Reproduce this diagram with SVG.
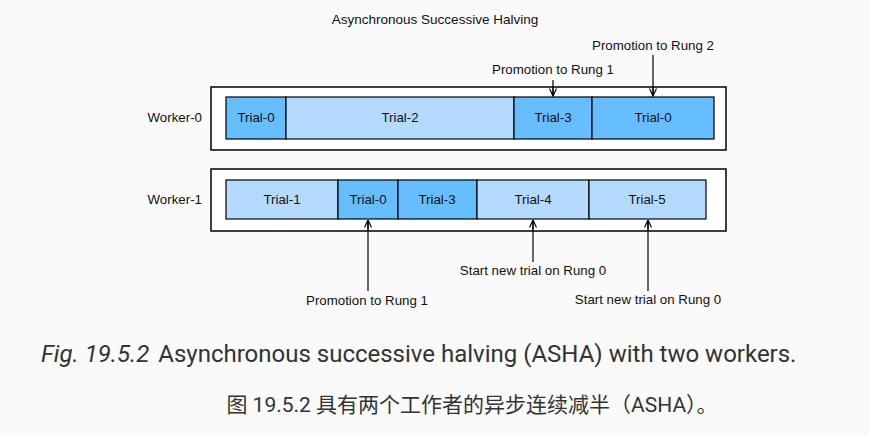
<svg xmlns="http://www.w3.org/2000/svg" width="869" height="436" viewBox="0 0 869 436">
<defs>
<style>
.t{font-family:"Liberation Sans",Arial,sans-serif;font-size:13.3px;fill:#111;text-anchor:middle}
.lbl{font-family:"Liberation Sans",Arial,sans-serif;font-size:13.3px;fill:#111;text-anchor:end}
.outer{fill:#fff;stroke:#000;stroke-width:1.5}
.dk{fill:#66BEFF;stroke:#000;stroke-width:1.2}
.lt{fill:#B5DAFF;stroke:#000;stroke-width:1.2}
.arr{stroke:#000;stroke-width:1.2;fill:none;marker-end:url(#ah)}
.cap{font-family:Roboto,"Noto Sans","Noto Sans CJK SC",sans-serif;fill:#333}
</style>
<marker id="ah" viewBox="0 0 10 8" refX="9.5" refY="4" markerWidth="10" markerHeight="8" markerUnits="userSpaceOnUse" orient="auto">
<path d="M2,0.5 L9.5,4 L2,7.5 M0,4 L9.5,4" fill="none" stroke="#000" stroke-width="1.2"/>
</marker>
</defs>
<rect width="869" height="436" fill="#FAFAFA"/>
<text id="title" class="t" x="435" y="24" style="font-size:13.5px">Asynchronous Successive Halving</text>

<g id="worker0">
<text class="lbl" x="202" y="122">Worker-0</text>
<rect class="outer" x="211" y="87" width="515" height="63"/>
<g id="w0-trial0a"><rect class="dk" x="226" y="97" width="60" height="42"/><text class="t" x="256" y="122">Trial-0</text></g>
<g id="w0-trial2"><rect class="lt" x="286" y="97" width="228" height="42"/><text class="t" x="400" y="122">Trial-2</text></g>
<g id="w0-trial3"><rect class="dk" x="514" y="97" width="78" height="42"/><text class="t" x="553" y="122">Trial-3</text></g>
<g id="w0-trial0b"><rect class="dk" x="592" y="97" width="122" height="42"/><text class="t" x="653" y="122">Trial-0</text></g>
</g>

<g id="worker1">
<text class="lbl" x="202" y="204">Worker-1</text>
<rect class="outer" x="211" y="169" width="515" height="62"/>
<g id="w1-trial1"><rect class="lt" x="226" y="180" width="112" height="39"/><text class="t" x="282" y="204">Trial-1</text></g>
<g id="w1-trial0"><rect class="dk" x="338" y="180" width="60" height="39"/><text class="t" x="368" y="204">Trial-0</text></g>
<g id="w1-trial3"><rect class="dk" x="398" y="180" width="79" height="39"/><text class="t" x="437" y="204">Trial-3</text></g>
<g id="w1-trial4"><rect class="lt" x="477" y="180" width="112" height="39"/><text class="t" x="533" y="204">Trial-4</text></g>
<g id="w1-trial5"><rect class="lt" x="589" y="180" width="117" height="39"/><text class="t" x="647" y="204">Trial-5</text></g>
</g>

<g id="labels">
<text class="t" x="553" y="74">Promotion to Rung 1</text>
<text class="t" x="653" y="50">Promotion to Rung 2</text>
<text class="t" x="367" y="305">Promotion to Rung 1</text>
<text class="t" x="533" y="275">Start new trial on Rung 0</text>
<text class="t" x="648" y="304">Start new trial on Rung 0</text>
</g>

<g id="connectors">
<line class="arr" x1="553" y1="80" x2="553" y2="96"/>
<line class="arr" x1="653" y1="55" x2="653" y2="96"/>
<line class="arr" x1="368" y1="291" x2="368" y2="220"/>
<line class="arr" x1="533" y1="262" x2="533" y2="220"/>
<line class="arr" x1="648" y1="291" x2="648" y2="220"/>
</g>

<g id="caption">
<text class="cap" x="41" y="362" style="font-size:24px"><tspan font-style="italic">Fig. 19.5.2</tspan><tspan dx="9">Asynchronous successive halving (ASHA) with two workers.</tspan></text>
<text class="cap" x="472" y="412" text-anchor="middle" style="font-size:21px">图 19.5.2 具有两个工作者的异步连续减半（ASHA）。</text>
</g>
</svg>
